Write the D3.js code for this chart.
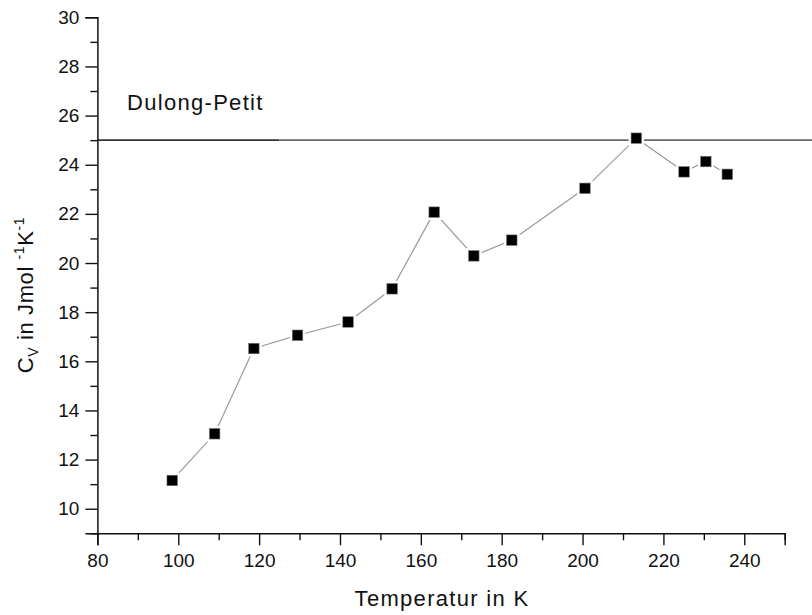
<!DOCTYPE html>
<html>
<head>
<meta charset="utf-8">
<script src="https://cdn.jsdelivr.net/npm/d3@7/dist/d3.min.js"></script>
<style>
  html, body { margin: 0; padding: 0; background: #fff; }
  svg { display: block; font-family: "Liberation Sans", Arial, sans-serif; }
</style>
</head>
<body>
<svg id="chart" width="812" height="615"></svg>
<script>
// ---- data ----
const temperatures = [98.5, 109.0, 118.7, 129.5, 142.0, 152.9, 163.3, 173.1, 182.5, 200.6, 213.3, 225.1, 230.5, 235.8];
const heatCapacity = [11.15, 13.05, 16.52, 17.06, 17.60, 18.95, 22.07, 20.29, 20.93, 23.04, 25.08, 23.71, 24.13, 23.61];
const dulongPetitValue = 25;
const dulongPetitLabel = "Dulong-Petit";
const xTicks = [80, 100, 120, 140, 160, 180, 200, 220, 240];
const yTicks = [10, 12, 14, 16, 18, 20, 22, 24, 26, 28, 30];
const xDomain = [80, 250];
const yDomain = [9, 30];
const xTitle = "Temperatur in K";

(function () {
// ---- layout ----
const W = 812, H = 615;
const mLeft = 97.4, mRight = 784.7, mTop = 17.3, mBottom = 533.3;
const svg = d3.select("#chart");

const x = d3.scaleLinear().domain(xDomain).range([mLeft, mRight]);
const y = d3.scaleLinear().domain(yDomain).range([mBottom, mTop]);

// Dulong-Petit line
const dpSplit = 125;
svg.append("line")
  .attr("x1", x(xDomain[0])).attr("x2", x(dpSplit))
  .attr("y1", y(dulongPetitValue)).attr("y2", y(dulongPetitValue))
  .attr("stroke", "#333").attr("stroke-width", 1.6);
svg.append("line")
  .attr("x1", x(dpSplit)).attr("x2", W)
  .attr("y1", y(dulongPetitValue)).attr("y2", y(dulongPetitValue))
  .attr("stroke", "#666").attr("stroke-width", 1.6);

svg.append("text")
  .attr("x", 127).attr("y", 109.5)
  .attr("font-size", 22).attr("letter-spacing", 1.3).attr("fill", "#111")
  .text(dulongPetitLabel);

// axes
const xMinor = d3.range(90, 251, 20);
const yMinor = d3.range(9, 30, 2);

const xAxis = svg.append("g")
  .attr("transform", `translate(0,${mBottom})`)
  .call(d3.axisBottom(x).tickValues(xTicks).tickSize(12).tickPadding(8).tickFormat(d3.format("d")));
xAxis.select(".domain").attr("stroke-width", 1.5).attr("stroke", "#111");
xAxis.selectAll(".tick line").attr("stroke-width", 1.4).attr("stroke", "#111");
xAxis.selectAll(".tick text").attr("font-size", 19).attr("fill", "#111").attr("font-family", "Liberation Sans, Arial, sans-serif");

const xMinorG = svg.append("g")
  .attr("transform", `translate(0,${mBottom})`)
  .call(d3.axisBottom(x).tickValues(xMinor).tickSize(7).tickFormat(""));
xMinorG.select(".domain").remove();
xMinorG.selectAll(".tick line").attr("stroke-width", 1.4).attr("stroke", "#111");

const yAxis = svg.append("g")
  .attr("transform", `translate(${mLeft},0)`)
  .call(d3.axisLeft(y).tickValues(yTicks).tickSize(12).tickPadding(6).tickFormat(d3.format("d")));
yAxis.select(".domain").attr("stroke-width", 1.5).attr("stroke", "#111");
yAxis.selectAll(".tick line").attr("stroke-width", 1.4).attr("stroke", "#111");
yAxis.selectAll(".tick text").attr("font-size", 19).attr("fill", "#111").attr("font-family", "Liberation Sans, Arial, sans-serif");

const yMinorG = svg.append("g")
  .attr("transform", `translate(${mLeft},0)`)
  .call(d3.axisLeft(y).tickValues(yMinor).tickSize(7).tickFormat(""));
yMinorG.select(".domain").remove();
yMinorG.selectAll(".tick line").attr("stroke-width", 1.4).attr("stroke", "#111");

// data line
const pts = temperatures.map((t, i) => [t, heatCapacity[i]]);
svg.append("path")
  .datum(pts)
  .attr("fill", "none")
  .attr("stroke", "#999")
  .attr("stroke-width", 1.2)
  .attr("d", d3.line().x(d => x(d[0])).y(d => y(d[1])));

// markers: white halo then black square
const ms = 10.5;
svg.append("g").selectAll("rect").data(pts).join("rect")
  .attr("x", d => x(d[0]) - ms / 2 - 2.5).attr("y", d => y(d[1]) - ms / 2 - 2.5)
  .attr("width", ms + 5).attr("height", ms + 5)
  .attr("fill", "#fff");
svg.append("g").selectAll("rect").data(pts).join("rect")
  .attr("x", d => x(d[0]) - ms / 2).attr("y", d => y(d[1]) - ms / 2)
  .attr("width", ms).attr("height", ms)
  .attr("fill", "#000").attr("stroke", "#777").attr("stroke-width", 0.6);

// axis titles
svg.append("text")
  .attr("x", 442).attr("y", 606)
  .attr("text-anchor", "middle").attr("font-size", 22).attr("letter-spacing", 1.3).attr("fill", "#111")
  .text(xTitle);

const yt = svg.append("text")
  .attr("transform", `translate(33,295) rotate(-90)`)
  .attr("text-anchor", "middle").attr("font-size", 22).attr("letter-spacing", 0.6).attr("fill", "#111");
yt.append("tspan").text("C");
yt.append("tspan").attr("font-size", 14).attr("dy", 5).text("V");
yt.append("tspan").attr("dy", -5).text(" in Jmol ");
yt.append("tspan").attr("font-size", 14).attr("dy", -9).text("-1");
yt.append("tspan").attr("dy", 9).text("K");
yt.append("tspan").attr("font-size", 14).attr("dy", -9).text("-1");
})();
</script>
</body>
</html>
